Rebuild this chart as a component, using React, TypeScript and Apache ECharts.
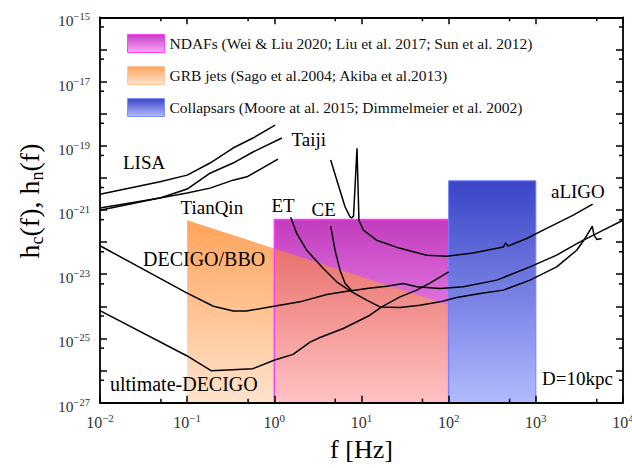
import React, { useEffect, useRef } from 'react';
import * as echarts from 'echarts';

// ---------- data (frequency in Hz, strain) ----------
const lisaCurve: [number, number][] = [
  [0.01, 3.1e-21], [0.0488, 7.6e-21], [0.1, 1.22e-20], [0.183, 2.9e-20],
  [0.336, 8.5e-20], [0.569, 1.74e-19], [1.02, 4.4e-19],
];
const taijiCurve: [number, number][] = [
  [0.01, 1.15e-21], [0.0488, 2.35e-21], [0.1, 4.5e-21], [0.183, 1.4e-20],
  [0.336, 2.9e-20], [0.569, 6.4e-20], [1.22, 1.74e-19],
];
const tianqinCurve: [number, number][] = [
  [0.01, 9.9e-22], [0.0451, 2.27e-21], [0.1, 3.36e-21], [0.183, 4.8e-21],
  [0.336, 8.5e-21], [0.485, 1.08e-20], [1.1, 3.85e-20],
];
const aligoCurve: [number, number][] = [
  [4.43, 3.6e-20], [5.42, 6.0e-21], [6.47, 1.26e-21], [7.38, 6.1e-22], [7.7, 5.7e-22],
  [8.1, 6.45e-22], [8.88, 8.3e-20], [9.35, 4.8e-22], [10.5, 2.37e-22], [14.9, 1.15e-22],
  [27.7, 6.4e-23], [56, 3.9e-23], [95, 3.66e-23], [190, 4.6e-23], [424, 7.1e-23],
  [451, 9.5e-23], [479, 7.5e-23], [786, 1.3e-22], [1331, 2.67e-22], [2690, 6.9e-22],
  [4490, 1.53e-21],
];
const etCurve: [number, number][] = [
  [1.54, 5.9e-22], [1.805, 1.87e-22], [2.35, 5.6e-23], [3.65, 1.51e-23], [5.19, 5.8e-24],
  [7.38, 3.04e-24], [11.47, 1.56e-24], [16.3, 9.6e-25], [27.65, 9.25e-25], [46.9, 1.09e-24],
  [79.5, 1.38e-24], [123.6, 1.89e-24], [229, 2.52e-24], [423, 3.2e-24], [857, 6.55e-24],
  [1735, 1.7e-23], [2943, 5.6e-23], [3664, 1.3e-22], [4181, 2.37e-22], [4443, 3.15e-22],
  [4647, 1.65e-22], [5029, 1.2e-22], [5694, 1.3e-22],
];
const ceCurve: [number, number][] = [
  [4.43, 3.15e-22], [4.97, 5.6e-23], [5.67, 1.34e-23], [6.47, 5.2e-24], [7.72, 3.04e-24],
  [11.47, 3.6e-24], [19.45, 4.26e-24], [30.2, 5.16e-24], [43, 4.05e-24], [79.5, 3.6e-24],
  [147, 4.05e-24], [356, 6.55e-24], [857, 1.7e-23], [1735, 3.94e-23], [3211, 1.02e-22],
  [5940, 2.37e-22], [10000, 4.8e-22],
];
const decigoCurve: [number, number][] = [
  [0.01, 7.7e-23], [0.0988, 2.63e-24], [0.2, 1.01e-24], [0.338, 7.2e-25], [0.482, 7.2e-25],
  [0.991, 1.01e-24], [1.97, 1.38e-24], [3.99, 2.35e-24], [7.38, 3.04e-24],
];
const ultimateDecigoCurve: [number, number][] = [
  [0.01, 7.35e-25], [0.0988, 2.9e-26], [0.188, 9.9e-27], [0.569, 1.15e-26], [0.991, 2.1e-26],
  [1.64, 3.2e-26], [2.57, 7.7e-26], [3.34, 1.07e-25], [6.18, 2.05e-25], [12.5, 5.3e-25],
  [17.05, 9.6e-25], [27.65, 1.98e-24], [43, 3.2e-24], [61, 5.3e-24], [100, 1.19e-23],
];

// source regions
const ndafF = [1, 100];
const ndafH = [1e-27, 5.1e-22];
const grbF = [0.1, 100];
const grbTopH = [4.8e-22, 1.1e-24];
const grbBottomH = 1e-27;
const collapsarF = [100, 1000];
const collapsarH = [1e-27, 8.1e-21];

// axes
const xRange = [1e-2, 1e4];
const yRange = [1e-27, 1e-15];
const xMinorTicks = [0.05, 0.5, 5, 50, 500, 5000];
const yMinorTicks = [5e-27, 5e-26, 5e-25, 5e-24, 5e-23, 5e-22, 5e-21, 5e-20, 5e-19, 5e-18, 5e-17, 5e-16];

const NDAF_NAME = 'NDAFs (Wei & Liu 2020; Liu et al. 2017; Sun et al. 2012)';
const GRB_NAME = 'GRB jets (Sago et al.2004; Akiba et al.2013)';
const COLL_NAME = 'Collapsars (Moore at al. 2015; Dimmelmeier et al. 2002)';

const FONT = 'Liberation Serif';

const L = (v: number) => Math.log10(v);
const toLog = (pts: [number, number][]) => pts.map(([f, h]) => [L(f), L(h)]);
const lin = (c0: string, c1: string) => ({
  type: 'linear', x: 0, y: 0, x2: 0, y2: 1,
  colorStops: [{ offset: 0, color: c0 }, { offset: 1, color: c1 }],
});

const expText = (v: number) => {
  const e = Math.round(v);
  return `{b|10}{s|${e < 0 ? '\u2212' + -e : e}}`;
};

export default function App() {
  const ref = useRef<HTMLDivElement>(null);
  useEffect(() => {
    if (!ref.current) return;
    const chart = echarts.init(ref.current, undefined, { renderer: 'svg' });

    const axisBase: any = {
      type: 'value',
      z: 10,
      interval: 1,
      axisLine: { show: true, onZero: false, lineStyle: { color: '#000', width: 1.8 } },
      axisTick: { show: true, inside: true, length: 7, lineStyle: { color: '#000', width: 1.5 } },
      splitLine: { show: false },
      minorTick: { show: false },
    };

    const curve = (name: string, pts: [number, number][]) => ({
      type: 'line', name, data: toLog(pts), symbol: 'none', showSymbol: false,
      lineStyle: { color: '#000', width: 1.5 }, silent: true, z: 3,
    });

    const labels = [
      { t: 'LISA', x: 123, y: 162.5, s: 19 },
      { t: 'Taiji', x: 291.5, y: 139, s: 19 },
      { t: 'TianQin', x: 180.5, y: 207, s: 19 },
      { t: 'ET', x: 271.5, y: 205, s: 19 },
      { t: 'CE', x: 311.5, y: 209.5, s: 19 },
      { t: 'aLIGO', x: 551, y: 191, s: 19 },
      { t: 'DECIGO/BBO', x: 143, y: 259, s: 20 },
      { t: 'ultimate-DECIGO', x: 110, y: 384, s: 20 },
      { t: 'D=10kpc', x: 542, y: 378, s: 19 },
    ];

    const option: any = {
      animation: false,
      backgroundColor: '#fff',
      textStyle: { fontFamily: FONT },
      grid: { left: 100, right: 9, top: 17.3, bottom: 65.3, containLabel: false, outerBoundsMode: 'none' },
      legend: {
        left: 127, top: 34, orient: 'vertical', itemWidth: 37, itemHeight: 18, itemGap: 13,
        padding: 0, selectedMode: false,
        textStyle: { fontFamily: FONT, fontSize: 15.5, color: '#111' },
        data: [
          { name: NDAF_NAME, icon: 'rect', itemStyle: { color: lin('#c040c0', '#ffa6ff'), borderColor: '#ff40ff', borderWidth: 1 } },
          { name: GRB_NAME, icon: 'rect', itemStyle: { color: lin('#ffa45c', '#ffe2cc'), borderColor: '#ffc898', borderWidth: 1 } },
          { name: COLL_NAME, icon: 'rect', itemStyle: { color: lin('#3a44c6', '#b2baff'), borderColor: '#8090ff', borderWidth: 1 } },
        ],
      },
      xAxis: [
        {
          ...axisBase, position: 'bottom', min: L(xRange[0]), max: L(xRange[1]),
          axisLabel: {
            margin: 10, fontFamily: FONT, formatter: (v: number) => expText(v),
            rich: {
              b: { fontFamily: FONT, fontSize: 16, color: '#333', lineHeight: 20 },
              s: { fontFamily: FONT, fontSize: 11, color: '#333', lineHeight: 12, verticalAlign: 'top' },
            },
          },
          name: 'f [Hz]', nameLocation: 'middle', nameGap: 34,
          nameTextStyle: { fontFamily: FONT, fontSize: 26, color: '#000' },
        },
        { ...axisBase, position: 'top', min: L(xRange[0]), max: L(xRange[1]), axisLabel: { show: false } },
      ],
      yAxis: [
        {
          ...axisBase, position: 'left', min: L(yRange[0]), max: L(yRange[1]),
          axisLabel: {
            margin: 10, padding: [7, 0, 0, 0], fontFamily: FONT,
            formatter: (v: number) => (Math.round(v) % 2 !== 0 ? expText(v) : ''),
            rich: {
              b: { fontFamily: FONT, fontSize: 15.5, color: '#333', lineHeight: 19 },
              s: { fontFamily: FONT, fontSize: 10.5, color: '#333', lineHeight: 11, verticalAlign: 'top' },
            },
          },
        },
        { ...axisBase, position: 'right', min: L(yRange[0]), max: L(yRange[1]), axisLabel: { show: false } },
      ],
      series: [
        {
          type: 'custom', name: GRB_NAME, z: 1, silent: true,
          itemStyle: { color: '#ffa45c' },
          data: [[L(grbF[0]), L(grbTopH[0]), L(grbF[1]), L(grbTopH[1]), L(grbBottomH)]],
          encode: { x: [0, 2], y: [1, 3, 4] },
          renderItem: (params: any, api: any) => {
            const a = api.coord([api.value(0), api.value(1)]);
            const b = api.coord([api.value(2), api.value(3)]);
            const yb = api.coord([api.value(0), api.value(4)])[1];
            return {
              type: 'polygon',
              shape: { points: [a, b, [b[0], yb], [a[0], yb]] },
              style: { fill: lin('#ffa45c', '#ffe3cc') },
            };
          },
        },
        {
          type: 'custom', name: NDAF_NAME, z: 1, silent: true,
          itemStyle: { color: '#c040c0' },
          data: [[L(ndafF[0]), L(ndafH[0]), L(ndafF[1]), L(ndafH[1])]],
          encode: { x: [0, 2], y: [1, 3] },
          renderItem: (params: any, api: any) => {
            const bl = api.coord([api.value(0), api.value(1)]);
            const tr = api.coord([api.value(2), api.value(3)]);
            const g0 = api.coord([L(grbF[0]), L(grbTopH[0])]);
            const g1 = api.coord([L(grbF[1]), L(grbTopH[1])]);
            const yAt = (x: number) => g0[1] + ((x - g0[0]) / (g1[0] - g0[0])) * (g1[1] - g0[1]);
            return {
              type: 'group',
              children: [
                {
                  type: 'rect',
                  shape: { x: bl[0], y: tr[1], width: tr[0] - bl[0], height: bl[1] - tr[1] },
                  style: { fill: lin('#c23cbe', '#ffb0ff') },
                },
                {
                  type: 'polygon',
                  shape: { points: [[bl[0], yAt(bl[0])], [tr[0], yAt(tr[0])], [tr[0], bl[1]], [bl[0], bl[1]]] },
                  style: { fill: lin('#e9716c', '#ffc2c4') },
                },
                {
                  type: 'polyline',
                  shape: { points: [[bl[0], bl[1]], [bl[0], tr[1]], [tr[0], tr[1]], [tr[0], bl[1]]] },
                  style: { fill: null, stroke: '#ff3cff', lineWidth: 1.5 },
                },
              ],
            };
          },
        },
        {
          type: 'custom', name: COLL_NAME, z: 1, silent: true,
          itemStyle: { color: '#3a44c6' },
          data: [[L(collapsarF[0]), L(collapsarH[0]), L(collapsarF[1]), L(collapsarH[1])]],
          encode: { x: [0, 2], y: [1, 3] },
          renderItem: (params: any, api: any) => {
            const bl = api.coord([api.value(0), api.value(1)]);
            const tr = api.coord([api.value(2), api.value(3)]);
            return {
              type: 'group',
              children: [
                {
                  type: 'rect',
                  shape: { x: bl[0], y: tr[1], width: tr[0] - bl[0], height: bl[1] - tr[1] },
                  style: { fill: lin('#3a44c6', '#b2baff') },
                },
                {
                  type: 'polyline',
                  shape: { points: [[bl[0], bl[1]], [bl[0], tr[1]], [tr[0], tr[1]], [tr[0], bl[1]]] },
                  style: { fill: null, stroke: '#7080ff', lineWidth: 1 },
                },
              ],
            };
          },
        },
        curve('LISA', lisaCurve),
        curve('Taiji', taijiCurve),
        curve('TianQin', tianqinCurve),
        curve('aLIGO', aligoCurve),
        curve('ET', etCurve),
        curve('CE', ceCurve),
        curve('DECIGO/BBO', decigoCurve),
        curve('ultimate-DECIGO', ultimateDecigoCurve),
        {
          type: 'custom', z: 11, silent: true,
          data: xMinorTicks.map((v) => [L(v), L(yRange[0])]),
          renderItem: (params: any, api: any) => {
            const cs = params.coordSys;
            const p = api.coord([api.value(0), api.value(1)]);
            const st = { stroke: '#000', lineWidth: 1.5 };
            return {
              type: 'group',
              children: [
                { type: 'line', shape: { x1: p[0], y1: cs.y + cs.height, x2: p[0], y2: cs.y + cs.height - 4 }, style: st },
                { type: 'line', shape: { x1: p[0], y1: cs.y, x2: p[0], y2: cs.y + 4 }, style: st },
              ],
            };
          },
        },
        {
          type: 'custom', z: 11, silent: true,
          data: yMinorTicks.map((v) => [L(xRange[0]), L(v)]),
          renderItem: (params: any, api: any) => {
            const cs = params.coordSys;
            const p = api.coord([api.value(0), api.value(1)]);
            const st = { stroke: '#000', lineWidth: 1.5 };
            return {
              type: 'group',
              children: [
                { type: 'line', shape: { x1: cs.x, y1: p[1], x2: cs.x + 4, y2: p[1] }, style: st },
                { type: 'line', shape: { x1: cs.x + cs.width, y1: p[1], x2: cs.x + cs.width - 4, y2: p[1] }, style: st },
              ],
            };
          },
        },
      ],
      graphic: [
        {
          type: 'text', x: 29, y: 201, rotation: Math.PI / 2, z: 20,
          style: {
            text: '{b|h}{s|c}{b|(f), h}{s|n}{b|(f)}',
            align: 'center', verticalAlign: 'middle',
            rich: {
              b: { fontFamily: FONT, fontSize: 28, lineHeight: 34, fill: '#000' },
              s: { fontFamily: FONT, fontSize: 18, lineHeight: 18, verticalAlign: 'bottom', fill: '#000' },
            },
          },
        },
        ...labels.map((l) => ({
          type: 'text', x: l.x, y: l.y, z: 20, silent: true,
          style: { text: l.t, fontFamily: FONT, fontSize: l.s, fill: '#000', align: 'left', verticalAlign: 'middle' },
        })),
      ],
    };

    chart.setOption(option);
    return () => chart.dispose();
  }, []);

  return (
    <div
      ref={ref}
      style={{ position: 'absolute', left: 0, top: 0, width: 632, height: 468, background: '#fff' }}
    />
  );
}
